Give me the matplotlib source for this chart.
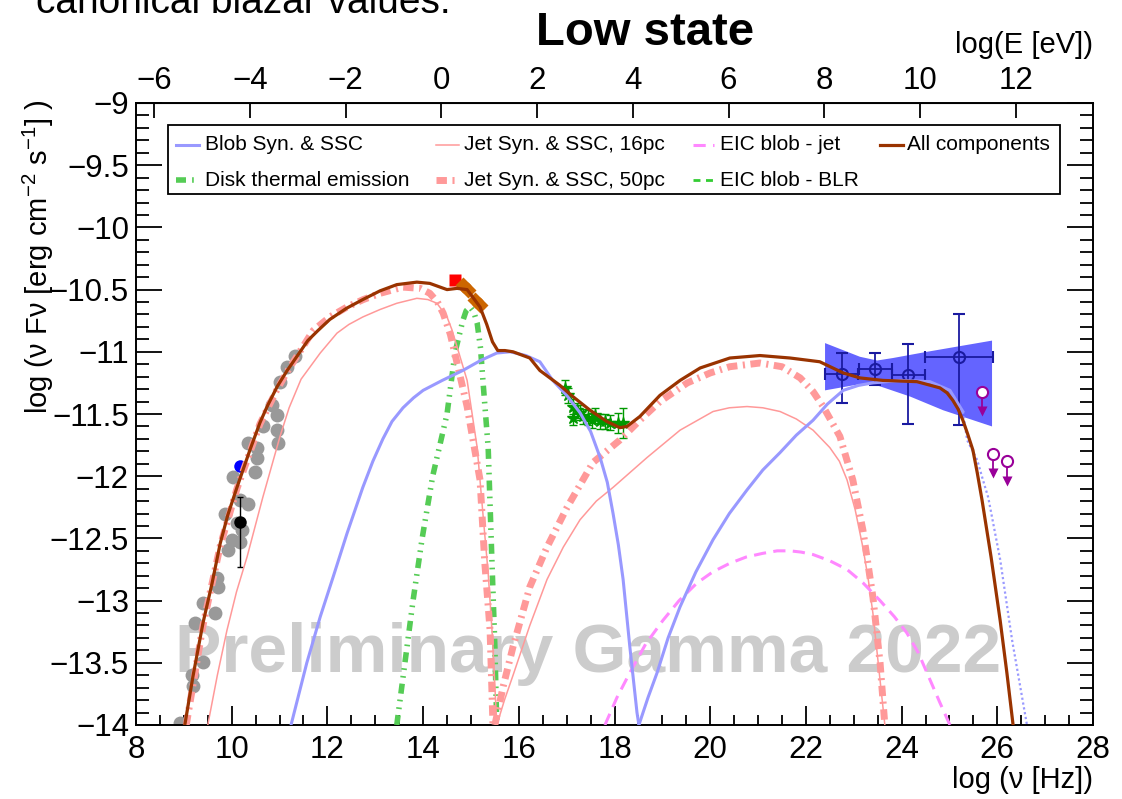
import matplotlib
matplotlib.use('Agg')
import matplotlib.pyplot as plt
from matplotlib.ticker import MultipleLocator, FuncFormatter
from matplotlib.patches import Rectangle

plt.rcParams['font.family'] = ['Liberation Sans', 'DejaVu Sans']
plt.rcParams['mathtext.fontset'] = 'custom'
plt.rcParams['mathtext.rm'] = 'Liberation Sans'
plt.rcParams['mathtext.it'] = 'Liberation Sans:italic'
plt.rcParams['mathtext.bf'] = 'Liberation Sans:bold'

# ---------------- data (log nu [Hz], log nuFnu [erg cm-2 s-1]) ----------------
radio_x = [8.92, 9.19, 9.17, 9.40, 9.23, 9.65, 9.40, 9.71, 9.69, 9.92, 10.01, 10.17, 10.22, 9.86, 10.11,
           10.17, 10.34, 10.03, 10.49, 10.53, 10.34, 10.53, 10.65, 10.95, 10.97, 10.84, 10.95, 11.01, 11.16, 11.32]
radio_y = [-13.98, -13.69, -13.60, -13.49, -13.18, -13.10, -13.02, -12.89, -12.82, -12.59, -12.51, -12.53, -12.43, -12.30, -12.38,
           -12.19, -12.22, -12.01, -11.97, -11.85, -11.73, -11.77, -11.60, -11.63, -11.73, -11.43, -11.51, -11.24, -11.12, -11.03]

blue_pt_x = [10.17]
blue_pt_y = [-11.92]
black_pt_x = [10.17]
black_pt_y = [-12.37]
black_pt_err_lo = [0.36]
black_pt_err_hi = [0.20]

red_sq_x = [14.67]
red_sq_y = [-10.42]
opt_x = [14.83, 14.94, 15.08, 15.19]
opt_y = [-10.46, -10.50, -10.58, -10.62]

xray_x = [16.97, 17.03, 17.13, 17.22, 17.28, 17.13, 17.34, 17.45, 17.53, 17.59, 17.70, 17.80, 17.91, 18.07, 18.18]
xray_y = [-11.29, -11.35, -11.44, -11.47, -11.49, -11.53, -11.52, -11.53, -11.55, -11.51, -11.56, -11.56, -11.57, -11.57, -11.57]
xray_yerr = [0.06, 0.06, 0.06, 0.06, 0.06, 0.06, 0.06, 0.06, 0.06, 0.06, 0.06, 0.06, 0.06, 0.08, 0.12]

fermi_x = [22.75, 23.44, 24.13, 25.20]
fermi_y = [-11.18, -11.14, -11.19, -11.04]
fermi_xlo = [22.40, 23.11, 23.80, 24.49]
fermi_xhi = [23.09, 23.80, 24.49, 25.91]
fermi_ylo = [-11.41, -11.27, -11.58, -11.59]
fermi_yhi = [-11.01, -11.01, -10.94, -10.70]

bowtie_x = [22.40, 23.13, 23.49, 23.82, 24.53, 25.89, 25.89, 24.87, 24.18, 23.49, 23.13, 22.40]
bowtie_y = [-10.93, -11.04, -11.07, -11.05, -11.00, -10.91, -11.60, -11.47, -11.36, -11.27, -11.26, -11.31]

ul_x = [25.68, 25.91, 26.20]
ul_y = [-11.32, -11.82, -11.88]

# ---------------- model curves ----------------
all_x = [9.02, 9.19, 9.40, 9.59, 9.76, 9.92, 10.11, 10.38, 10.59, 10.74, 10.95, 11.16, 11.59, 11.80, 12.05,
         12.40, 12.74, 13.10, 13.45, 13.87, 14.14, 14.50, 14.71, 14.92, 15.19, 15.33, 15.45, 15.56, 15.71, 15.88,
         16.23, 16.44, 16.86, 17.13, 17.49, 17.84, 18.11, 18.26, 18.53, 18.95, 19.37, 19.79, 20.41, 21.04,
         21.67, 22.29, 22.78, 23.13, 23.61, 24.32, 24.80, 24.95, 25.07, 25.18, 25.28, 25.38, 25.49, 25.58,
         25.68, 25.87, 26.06, 26.20, 26.33]
all_y = [-14.0, -13.61, -13.18, -12.86, -12.54, -12.31, -12.09, -11.79, -11.57, -11.44, -11.28, -11.15, -10.91,
         -10.83, -10.74, -10.65, -10.58, -10.51, -10.46, -10.44, -10.45, -10.50, -10.49, -10.50, -10.64, -10.78,
         -10.92, -10.99, -10.99, -11.00, -11.05, -11.15, -11.27, -11.36, -11.47, -11.56, -11.61, -11.60, -11.52,
         -11.35, -11.23, -11.13, -11.05, -11.03, -11.05, -11.08, -11.17, -11.21, -11.23, -11.24, -11.29, -11.33,
         -11.39, -11.46, -11.55, -11.66, -11.79, -11.97, -12.19, -12.65, -13.16, -13.58, -14.0]

blob_syn_x = [11.24, 11.57, 11.85, 12.12, 12.41, 12.74, 12.95, 13.16, 13.35, 13.58, 13.80, 14.00, 14.40, 14.83,
              15.20, 15.54, 15.82, 16.15, 16.44, 16.71, 17.00, 17.28, 17.50, 17.70, 17.85, 17.97, 18.08,
              18.18, 18.32, 18.47, 18.51]
blob_syn_y = [-14.0, -13.50, -13.13, -12.81, -12.46, -12.09, -11.88, -11.70, -11.56, -11.45, -11.37, -11.31,
              -11.23, -11.15, -11.07, -11.01, -11.00, -11.03, -11.08, -11.23, -11.35, -11.49, -11.64, -11.85,
              -12.05, -12.30, -12.55, -12.83, -13.37, -13.90, -14.0]
blob_ssc_x = [18.51, 18.70, 18.89, 19.12, 19.37, 19.70, 20.06, 20.40, 20.77, 21.10, 21.46, 21.80, 22.15,
              22.45, 22.78, 23.10, 23.40, 23.97, 24.59, 25.01, 25.28]
blob_ssc_y = [-14.0, -13.78, -13.58, -13.30, -13.05, -12.77, -12.51, -12.30, -12.11, -11.95, -11.81, -11.67,
              -11.55, -11.42, -11.31, -11.27, -11.25, -11.23, -11.24, -11.31, -11.48]
blob_ssc_tail_x = [25.28, 25.37, 25.58, 25.70, 25.81, 26.06, 26.31, 26.62]
blob_ssc_tail_y = [-11.48, -11.71, -11.87, -12.03, -12.17, -12.67, -13.32, -14.0]

jet16_syn_x = [9.50, 9.70, 9.90, 10.10, 10.32, 10.65, 11.01, 11.20, 11.45, 11.85, 12.20, 12.45, 12.74, 13.10,
               13.45, 13.87, 14.10, 14.29, 14.50, 14.60, 14.71, 14.92, 15.13, 15.25, 15.36, 15.45, 15.54]
jet16_syn_y = [-14.0, -13.60, -13.24, -12.93, -12.65, -12.17, -11.68, -11.45, -11.22, -11.01, -10.85, -10.78,
               -10.72, -10.66, -10.61, -10.57, -10.58, -10.61, -10.72, -10.82, -10.96, -11.23, -11.77, -12.30,
               -12.78, -13.30, -14.0]
jet16_ic_x = [15.54, 15.70, 15.88, 16.23, 16.59, 16.93, 17.28, 17.62, 17.97, 18.68, 19.37, 20.06, 20.40,
              20.77, 21.10, 21.46, 21.80, 22.15, 22.50, 22.70, 22.86, 23.03, 23.19, 23.30, 23.40, 23.55, 23.65]
jet16_ic_y = [-14.0, -13.80, -13.60, -13.20, -12.83, -12.57, -12.35, -12.20, -12.09, -11.85, -11.63, -11.48,
              -11.45, -11.44, -11.45, -11.48, -11.54, -11.63, -11.77, -11.88, -12.03, -12.27, -12.57, -12.82,
              -13.10, -13.64, -14.0]

jet50_syn_x = [9.05, 9.40, 9.76, 10.11, 10.59, 10.95, 11.16, 11.70, 12.05, 12.41, 12.75, 13.10, 13.58, 13.94,
               14.14, 14.30, 14.42, 14.57, 14.71, 14.92, 15.19, 15.29, 15.40, 15.46]
jet50_syn_y = [-14.0, -13.20, -12.56, -12.10, -11.58, -11.30, -11.16, -10.83, -10.72, -10.64, -10.58, -10.53,
               -10.48, -10.49, -10.53, -10.60, -10.69, -10.86, -11.09, -11.44, -12.03, -12.70, -13.24, -14.0]
jet50_ic_x = [15.50, 15.68, 15.88, 16.23, 16.59, 17.01, 17.55, 18.11, 18.53, 18.95, 19.52, 20.00, 20.41, 21.04,
              21.50, 21.88, 22.15, 22.36, 22.71, 22.98, 23.19, 23.40, 23.55, 23.65]
jet50_ic_y = [-14.0, -13.68, -13.37, -12.89, -12.57, -12.25, -11.89, -11.71, -11.55, -11.40, -11.25, -11.17,
              -11.12, -11.09, -11.12, -11.21, -11.32, -11.44, -11.68, -12.03, -12.43, -12.97, -13.50, -14.0]

eic_jet_x = [17.80, 18.05, 18.32, 18.65, 19.01, 19.35, 19.72, 20.05, 20.41, 20.75, 21.10, 21.40, 21.67, 21.90,
             22.15, 22.50, 22.86, 23.20, 23.55, 23.85, 24.11, 24.35, 24.53, 24.80, 25.01]
eic_jet_y = [-14.0, -13.78, -13.58, -13.35, -13.16, -13.00, -12.86, -12.77, -12.70, -12.65, -12.62, -12.60,
             -12.60, -12.61, -12.63, -12.68, -12.75, -12.86, -13.00, -13.13, -13.26, -13.42, -13.58, -13.82, -14.0]

disk_x = [13.45, 13.62, 13.79, 13.98, 14.20, 14.50, 14.67, 14.83, 14.90, 14.98, 15.06, 15.13, 15.20, 15.25,
          15.36, 15.44, 15.50, 15.54]
disk_y = [-14.0, -13.5, -13.0, -12.5, -12.0, -11.5, -11.0, -10.75, -10.67, -10.64, -10.68, -10.77, -10.97,
          -11.23, -11.77, -12.70, -13.37, -14.0]

x_ticks = [8, 10, 12, 14, 16, 18, 20, 22, 24, 26, 28]
e_ticks = [-6, -4, -2, 0, 2, 4, 6, 8, 10, 12]
LOG_H_EV = -14.383  # log10(Planck constant in eV s)

legend_labels = ["Blob Syn. & SSC", "Jet Syn. & SSC, 16pc", "EIC blob - jet", "All components",
                 "Disk thermal emission", "Jet Syn. & SSC, 50pc", "EIC blob - BLR"]

# ---------------- styles ----------------
C_BLUE = '#9999ff'
C_PINK = '#ff9999'
C_MAG = '#ff88ff'
C_BROWN = '#993300'
C_GREEN = '#55cc55'
C_GREEN2 = '#33cc33'

st_blob = dict(color=C_BLUE, lw=2.2, solid_joinstyle='round')
st_jet16 = dict(color=C_PINK, lw=1.1, solid_joinstyle='round')
st_jet50 = dict(color=C_PINK, lw=5, dashes=[1.5, 0.8, 0.3, 0.8])
st_eic = dict(color=C_MAG, lw=2.2, dashes=[4, 2.4])
st_all = dict(color=C_BROWN, lw=2.3, solid_joinstyle='round')
st_disk = dict(color=C_GREEN, lw=4, dashes=[1.8, 1.1, 0.3, 1.1, 0.3, 1.1])
st_blr = dict(color=C_GREEN2, lw=2.0, dashes=[2.5, 2.0])

fig = plt.figure(figsize=(11.22, 7.99), dpi=100)
ax = fig.add_axes([136 / 1122, 1 - 725 / 799, (1093 - 136) / 1122, (725 - 103) / 799])
ax.set_xlim(8, 28)
ax.set_ylim(-14, -9)

# watermark
ax.text(17.44, -13.57, "Preliminary Gamma 2022", color='#cccccc', fontsize=50, fontweight='bold',
        ha='center', va='baseline', zorder=1)

# data
ax.fill(bowtie_x, bowtie_y, color='#6464ff', lw=0, zorder=1.2)
ax.plot(radio_x, radio_y, 'o', color='#999999', ms=10, mec='none', zorder=2)
ax.plot(blue_pt_x, blue_pt_y, 'o', color='#0000ff', ms=9, mec='none', zorder=2.2)
ax.errorbar(black_pt_x, black_pt_y, yerr=[black_pt_err_lo, black_pt_err_hi], fmt='o', color='black',
            ms=9, mec='none', elinewidth=1.0, capsize=2.5, capthick=1.0, zorder=2.2)
ax.plot(red_sq_x, red_sq_y, 's', color='#ff0000', ms=9, mec='none', zorder=2.3)
ax.plot(opt_x, opt_y, 'D', color='#cc6600', ms=8, mec='none', zorder=2.3)
ax.errorbar(xray_x, xray_y, yerr=xray_yerr, fmt='*', color='#009900', ms=9, mec='#009900',
            elinewidth=1.0, capsize=3, capthick=1.0, zorder=2.2)
fermi_xerr = [[a - b for a, b in zip(fermi_x, fermi_xlo)], [b - a for a, b in zip(fermi_x, fermi_xhi)]]
fermi_yerr = [[a - b for a, b in zip(fermi_y, fermi_ylo)], [b - a for a, b in zip(fermi_y, fermi_yhi)]]
ax.errorbar(fermi_x, fermi_y, xerr=fermi_xerr, yerr=fermi_yerr, fmt='o', color='#1a1aa0', mfc='none',
            mec='#1a1aa0', mew=1.5, ms=8, elinewidth=1.3, capsize=4, capthick=1.3, zorder=2.4)
for ux, uy in zip(ul_x, ul_y):
    ax.plot([ux, ux], [uy, uy - 0.17], color='#990099', lw=1.3, zorder=2.4)
    ax.plot([ux], [uy - 0.155], 'v', color='#990099', ms=7, mec='none', zorder=2.4)
ax.plot(ul_x, ul_y, 'o', mfc='white', mec='#990099', mew=1.5, ms=8, ls='none', zorder=2.5)

# models
ax.plot(disk_x, disk_y, zorder=3, **st_disk)
ax.plot(jet16_syn_x, jet16_syn_y, zorder=3.1, **st_jet16)
ax.plot(jet16_ic_x, jet16_ic_y, zorder=3.1, **st_jet16)
ax.plot(jet50_syn_x, jet50_syn_y, zorder=3.2, **st_jet50)
ax.plot(jet50_ic_x, jet50_ic_y, zorder=3.2, **st_jet50)
ax.plot(eic_jet_x, eic_jet_y, zorder=3.3, **st_eic)
ax.plot(blob_syn_x, blob_syn_y, zorder=3.4, **st_blob)
ax.plot(blob_ssc_x, blob_ssc_y, zorder=3.4, **st_blob)
ax.plot(blob_ssc_tail_x, blob_ssc_tail_y, color=C_BLUE, lw=1.6, dashes=[1.0, 1.2], zorder=3.4)
ax.plot(all_x, all_y, zorder=4, **st_all)

# legend (manual, ROOT style)
ax.add_patch(Rectangle((0.0334, 0.8537), 0.932, 0.111, transform=ax.transAxes, facecolor='white',
                       edgecolor='black', lw=1.3, zorder=10))
row_y = [0.9325, 0.876]
col_line = [(0.042, 0.066), (0.314, 0.337), (0.582, 0.604), (0.777, 0.801)]
col_text = [0.0725, 0.3425, 0.610, 0.806]
entries = [(0, 0, st_blob), (0, 1, st_jet16), (0, 2, st_eic), (0, 3, st_all),
           (1, 0, st_disk), (1, 1, st_jet50), (1, 2, st_blr)]
for (r, c, st), lab in zip(entries, legend_labels):
    ax.plot(col_line[c], [row_y[r], row_y[r]], transform=ax.transAxes, zorder=11, clip_on=False, **st)
    ax.text(col_text[c], row_y[r], lab, transform=ax.transAxes, fontsize=15, va='center', ha='left', zorder=11)

# axes & ticks
fmt = FuncFormatter(lambda v, p: ('%g' % v).replace('-', '\u2212'))
ax.set_xticks(x_ticks)
ax.xaxis.set_minor_locator(MultipleLocator(0.5))
ax.yaxis.set_major_locator(MultipleLocator(0.5))
ax.yaxis.set_minor_locator(MultipleLocator(0.1))
ax.yaxis.set_major_formatter(fmt)
ax.xaxis.set_major_formatter(fmt)
ax.tick_params(axis='x', which='major', direction='in', length=14, width=1.3, top=False, labelsize=22.5, pad=7)
ax.tick_params(axis='x', which='minor', direction='in', length=7, width=1.3, top=False)
ax.tick_params(axis='y', which='major', direction='in', length=19, width=1.3, left=True, right=True,
               labelsize=22.5, pad=5)
ax.tick_params(axis='y', which='minor', direction='in', length=9.5, width=1.3, left=True, right=True)
for s in ax.spines.values():
    s.set_linewidth(1.4)

sec = ax.secondary_xaxis('top', functions=(lambda v: v + LOG_H_EV, lambda e: e - LOG_H_EV))
sec.set_xticks(e_ticks)
sec.xaxis.set_major_formatter(fmt)
sec.tick_params(axis='x', which='major', direction='in', length=11, width=1.3, labelsize=22.5, pad=5)
sec.tick_params(axis='x', which='minor', length=0)

# texts
fig.text(645 / 1122, 1 - 45 / 799, "Low state", fontsize=34, fontweight='bold', ha='center', va='baseline')
fig.text(1093 / 1122, 1 - 45 / 799, "log(E [eV])", fontsize=21, ha='right', va='center')
fig.text(1093 / 1122, 1 - 780 / 799, "log (\u03bd [Hz])", fontsize=21, ha='right', va='center')
fig.text(38 / 1122, 1 - 100 / 799, "log (\u03bd F\u03bd [erg cm$^{-2}$ s$^{-1}$] )", fontsize=21,
         rotation=90, ha='center', va='top')
fig.text(36 / 1122, 1 - 13 / 799, "canonical blazar values.", fontsize=28, ha='left', va='baseline')

fig.savefig('out.png', dpi=100)
